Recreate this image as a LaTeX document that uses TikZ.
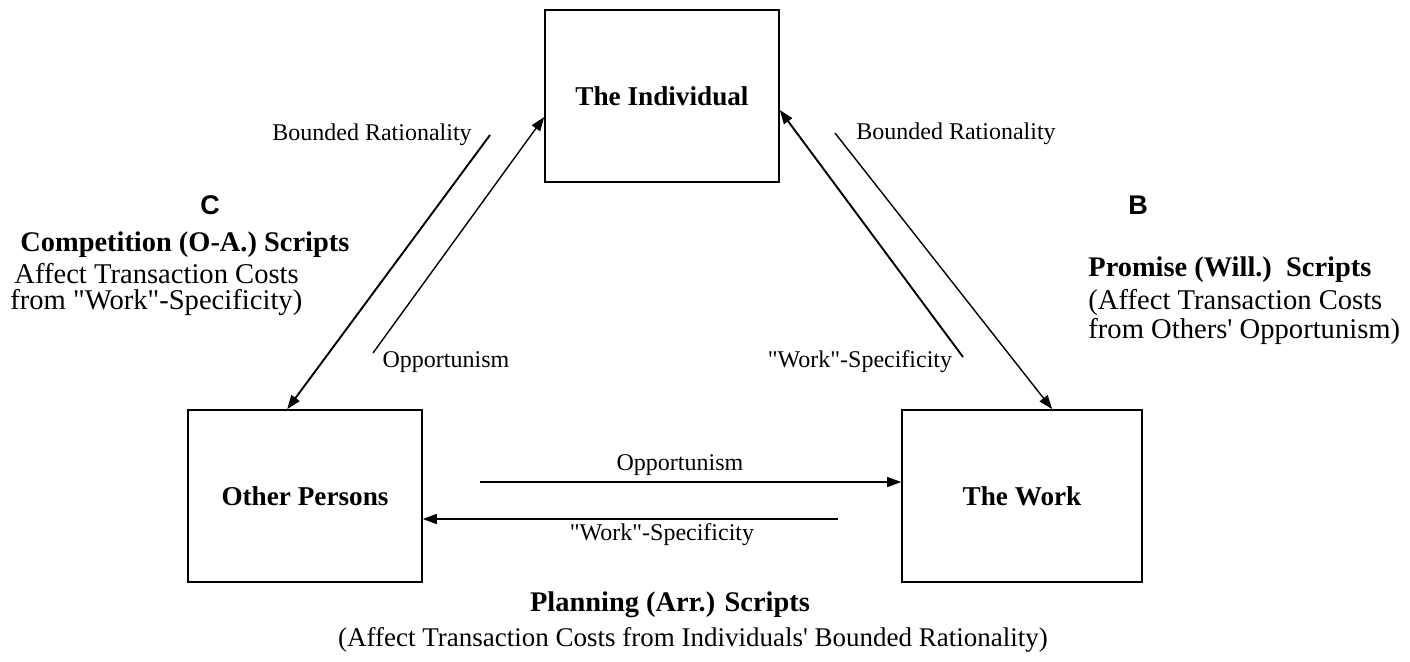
\documentclass[tikz,border=0pt]{standalone}
\usepackage{fontspec}
\setmainfont{Liberation Serif}
\newfontfamily\sansfnt{Liberation Sans}
\usetikzlibrary{arrows.meta}
\newcommand{\dq}{\textquotedbl}
\begin{document}
\begin{tikzpicture}[x=0.5pt,y=-0.5pt,
  box/.style={draw, line width=0.8pt, minimum width=117pt, minimum height=86pt, inner sep=0pt,
    font=\fontsize{13.6}{16}\selectfont\bfseries},
  lbl/.style={inner sep=0pt, font=\fontsize{12}{14}\selectfont},
  side/.style={inner sep=0pt, anchor=west, font=\fontsize{14.3}{16}\selectfont},
  sideb/.style={inner sep=0pt, anchor=west, font=\fontsize{14.2}{16}\selectfont\bfseries},
  letter/.style={inner sep=0pt, font=\sansfnt\bfseries\fontsize{13.5}{15}\selectfont},
  arr/.style={-{Triangle[length=7pt,width=5pt]}, line width=0.7pt},
  arrthick/.style={arr, line width=0.95pt},
]
\useasboundingbox[fill=white] (0,0) rectangle (1410,661);

% boxes
\node[box] (ind)  at (662,96)  {The Individual};
\node[box] (oth)  at (305,496) {Other Persons};
\node[box, minimum width=120pt] (work) at (1022,496) {The Work};

% free ends
\coordinate (a0) at (490,135);
\coordinate (b0) at (373,353);
\coordinate (c0) at (963,357);
\coordinate (d0) at (835,133);
\coordinate (e0) at (480,482);
\coordinate (f0) at (838,519);

% connectors
\draw[arrthick] (a0) -- ([xshift=50pt]oth.north west);
\draw[arr] (b0) -- ([yshift=-10.5pt]ind.west);
\draw[arrthick] (c0) -- ([yshift=-7pt]ind.east);
\draw[arr] (d0) -- ([xshift=75.5pt]work.north west);
\draw[arr] (e0) -- (work.west |- e0);
\draw[arr] (f0) -- (oth.east |- f0);

% connector labels
\node[lbl] (br1) at (372,135) {Bounded Rationality};
\node[lbl] (op1) at (446,362) {Opportunism};
\node[lbl] (br2) at (956,134) {Bounded Rationality};
\node[lbl] (ws1) at (860,362) {\dq Work\dq -Specificity};
\node[lbl] (op2) at (680,465) {Opportunism};
\node[lbl] (ws2) at (662,535) {\dq Work\dq -Specificity};

% left block
\node[letter] (C) at (210,205) {C};
\node[sideb] (c1) at (20,245) {Competition (O-A.) Scripts};
\node[side] (c2) at (14,274) {Affect Transaction Costs};
\node[side] (c3) at (10,303) {from \dq Work\dq -Specificity)};

% right block
\node[letter] (B) at (1138,205) {B};
\node[sideb] (b1) at (1088,270) {Promise (Will.)\ \ Scripts};
\node[side] (b2) at (1088,302) {(Affect Transaction Costs};
\node[side] (b3) at (1088,331) {from Others\textquotesingle\ Opportunism)};

% bottom block
\node[inner sep=0pt, font=\fontsize{14.2}{16}\selectfont\bfseries] (p1) at (670,605) {Planning (Arr.) Scripts};
\node[inner sep=0pt, font=\fontsize{13.5}{16}\selectfont] (p2) at (693,640) {(Affect Transaction Costs from Individuals\textquotesingle\ Bounded Rationality)};
\end{tikzpicture}
\end{document}
